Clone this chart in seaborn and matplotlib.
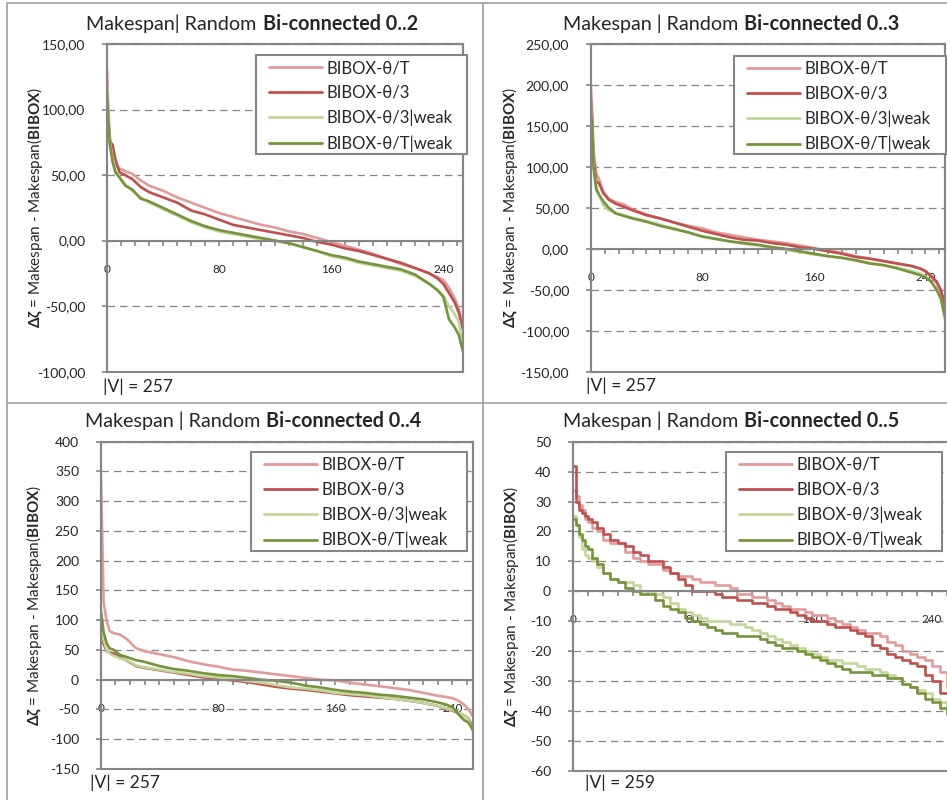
import pandas as pd
import matplotlib
matplotlib.use('Agg')
import matplotlib.pyplot as plt
import seaborn as sns
from matplotlib.lines import Line2D
from matplotlib.patches import Rectangle
from matplotlib.ticker import MultipleLocator, FixedLocator, FuncFormatter
from matplotlib.offsetbox import TextArea, HPacker, AnchoredOffsetbox

sns.set_theme(style='white')
plt.rcParams['font.family'] = ['Lato', 'DejaVu Sans']
plt.rcParams['mathtext.fontset'] = 'custom'
plt.rcParams['mathtext.rm'] = 'Lato'
plt.rcParams['mathtext.bf'] = 'Lato:bold'
plt.rcParams['mathtext.fallback'] = 'stixsans'

# series names and colours
labels = ['BIBOX-θ/T', 'BIBOX-θ/3', 'BIBOX-θ/3|weak', 'BIBOX-θ/T|weak']
colors = ['#E29B9A', '#C0504D', '#C3D69B', '#77933C']

# instance index (sorted by delta) for panels 0..2, 0..3, 0..4
x_abc = [0, 1, 2, 4, 6, 9, 13, 18, 24, 30, 40, 50, 60, 70, 80, 90, 100, 110, 120, 130,
         140, 150, 160, 170, 180, 190, 200, 210, 220, 230, 236, 240, 244, 248, 251, 254]
# instance index for panel 0..5
x_d = [0, 2, 4, 6, 8, 10, 13, 16] + list(range(20, 251, 5)) + [256]

# Bi-connected 0..2
b2_thT = [131, 100, 80, 62, 57, 55, 53, 51, 46, 42, 38, 33, 29, 25, 21, 18, 15, 12, 10, 7,
          5, 2, -1, -4, -7, -10, -14, -18, -21, -25, -28, -30, -36, -44, -52, -65]
b2_th3 = [110, 90, 76, 73, 62, 52, 50, 47, 41, 37, 33, 29, 23, 20, 16, 12, 10, 8, 6, 4,
          2, -1, -3, -6, -8, -11, -14, -17, -21, -25, -29, -33, -40, -47, -55, -68]
b2_th3w = [116, 92, 76, 62, 54, 48, 43, 38, 33, 29, 24, 19, 14, 10, 7, 5, 3, 1, 0, -2,
           -5, -8, -12, -14, -17, -19, -21, -23, -27, -33, -38, -42, -50, -56, -62, -82]
b2_thTw = [112, 90, 74, 60, 52, 48, 42, 39, 32, 30, 25, 20, 15, 11, 8, 6, 4, 2, 0, -2,
           -5, -8, -11, -13, -16, -18, -20, -22, -26, -33, -38, -43, -60, -66, -72, -85]

# Bi-connected 0..3
b3_thT = [202, 170, 120, 92, 85, 70, 61, 57, 54, 48, 42, 37, 32, 28, 25, 20, 17, 14, 11, 9,
          7, 4, 1, -2, -5, -9, -12, -15, -18, -21, -24, -28, -34, -42, -54, -72]
b3_th3 = [183, 160, 110, 82, 80, 68, 60, 55, 51, 47, 41, 37, 32, 27, 22, 18, 14, 11, 10, 7,
          5, 2, 0, -3, -6, -10, -12, -15, -18, -21, -24, -27, -33, -40, -50, -68]
b3_th3w = [179, 150, 100, 76, 66, 53, 47, 44, 41, 38, 34, 29, 25, 20, 15, 12, 9, 6, 4, 1,
           -1, -4, -7, -9, -11, -14, -17, -20, -23, -27, -30, -34, -40, -50, -62, -87]
b3_thTw = [173, 150, 100, 72, 66, 58, 50, 43, 40, 37, 33, 28, 24, 20, 15, 12, 9, 7, 5, 2,
           0, -3, -6, -9, -11, -14, -18, -20, -24, -29, -32, -35, -40, -50, -60, -83]

# Bi-connected 0..4
b4_thT = [360, 250, 130, 100, 82, 78, 76, 68, 53, 48, 43, 38, 31, 26, 22, 17, 15, 12, 9, 6,
          3, 0, -1, -5, -8, -11, -14, -17, -22, -27, -29, -31, -35, -42, -50, -62]
b4_th3 = [90, 72, 60, 48, 46, 44, 38, 32, 23, 20, 16, 12, 8, 4, 1, -1, -4, -8, -12, -15,
          -17, -20, -23, -26, -28, -30, -32, -35, -39, -44, -49, -52, -56, -60, -66, -80]
b4_th3w = [95, 80, 67, 50, 44, 40, 36, 33, 24, 21, 17, 13, 10, 6, 4, 1, -2, -5, -9, -13,
           -15, -18, -22, -24, -26, -29, -32, -35, -39, -44, -48, -51, -55, -60, -67, -87]
b4_thTw = [120, 100, 80, 62, 53, 50, 42, 38, 33, 30, 23, 18, 15, 11, 8, 6, 3, 0, -2, -5,
           -10, -13, -17, -20, -22, -25, -27, -30, -33, -38, -42, -46, -58, -68, -72, -85]

# Bi-connected 0..5
b5_thT = [34, 32, 29, 27, 24, 23, 21, 20, 17, 16, 16, 13, 11, 10, 9, 9, 7, 6, 5, 5,
          4, 3, 3, 2, 2, 1, -1, -1, -2, -2, -3, -4, -5, -6, -6, -7, -8, -8, -9, -10,
          -11, -12, -13, -14, -14, -15, -17, -18, -20, -21, -22, -23, -25, -27, -32, -35]
b5_th3 = [42, 30, 27, 26, 25, 24, 23, 21, 19, 17, 16, 15, 13, 12, 10, 10, 8, 6, 4, 2,
          0, 0, 0, -1, -2, -2, -3, -3, -4, -4, -5, -6, -6, -7, -8, -9, -10, -10, -11, -12,
          -12, -13, -14, -15, -18, -19, -21, -22, -23, -24, -25, -28, -30, -34, -34, -35]
b5_th3w = [25, 22, 18, 14, 12, 11, 10, 8, 6, 4, 3, 3, 2, 0, 0, -1, -2, -4, -6, -7,
           -8, -9, -10, -10, -10, -11, -11, -12, -13, -14, -15, -16, -17, -18, -19, -20, -21, -22, -23, -23,
           -24, -24, -25, -26, -26, -27, -28, -29, -31, -32, -33, -34, -36, -37, -41, -43]
b5_thTw = [24, 22, 19, 17, 15, 14, 11, 9, 6, 4, 3, 1, 0, -1, -1, -3, -5, -6, -7, -9,
           -10, -11, -12, -13, -14, -14, -15, -15, -15, -16, -17, -18, -19, -19, -20, -21, -22, -23, -24, -25,
           -26, -27, -27, -27, -28, -28, -29, -29, -31, -32, -34, -36, -37, -39, -41, -43]

titles_reg = ['Makespan| Random', 'Makespan | Random', 'Makespan | Random', 'Makespan | Random']
titles_bold = ['Bi-connected 0..2', 'Bi-connected 0..3', 'Bi-connected 0..4', 'Bi-connected 0..5']
vertex_counts = ['|V| = 257', '|V| = 257', '|V| = 257', '|V| = 259']
xticks = [0, 80, 160, 240]

panels = [
    (x_abc, [b2_thT, b2_th3, b2_th3w, b2_thTw], (-100, 150), 50, True),
    (x_abc, [b3_thT, b3_th3, b3_th3w, b3_thTw], (-150, 250), 50, True),
    (x_abc, [b4_thT, b4_th3, b4_th3w, b4_thTw], (-150, 400), 50, False),
    (x_d, [b5_thT, b5_th3, b5_th3w, b5_thTw], (-60, 50), 10, False),
]

# layout in pixels: plot area (left, right, top, bottom), title centre, y label x,
# |V| text position, legend box (left, top, width, height)
W, H = 947, 800
layout = [
    dict(rect=(107, 463, 44, 371.7), title=(252, 24), ylab=35, nv=(103, 387), leg=(256, 55, 211, 99)),
    dict(rect=(590.7, 945, 44, 371.7), title=(731, 24), ylab=510, nv=(586, 386), leg=(734, 56, 212, 98)),
    dict(rect=(100.7, 473, 441.7, 769), title=(253, 421), ylab=34, nv=(90, 783), leg=(251, 452, 216, 99)),
    dict(rect=(572.7, 956, 441.7, 770.7), title=(731, 421), ylab=511, nv=(585, 783), leg=(726, 452, 216, 99)),
]

GRAY = '#868686'
ylabel = r'$\mathbf{\Delta\zeta}$ = Makespan - Makespan($\mathbf{BIBOX}$)'

fig = plt.figure(figsize=(W / 100, H / 100), dpi=100)

for i, ((xs, series, ylim, ystep, decimals), lay) in enumerate(zip(panels, layout)):
    l, r, t, b = lay['rect']
    ax = fig.add_axes([l / W, 1 - b / H, (r - l) / W, (b - t) / H])

    df = pd.DataFrame({
        'x': xs * len(series),
        'y': [v for s in series for v in s],
        'method': [lab for lab, s in zip(labels, series) for _ in s],
    })
    sns.lineplot(data=df, x='x', y='y', hue='method', hue_order=labels, palette=colors,
                 estimator=None, legend=False, linewidth=1.9, ax=ax,
                 drawstyle='steps-post' if i == 3 else 'default')

    ax.set_xlim(xs[0], xs[-1])
    ax.set_ylim(*ylim)
    ax.set_xlabel('')
    ax.set_ylabel('')

    # zero-crossing category axis, gray plot-area frame
    ax.spines['bottom'].set_position(('data', 0))
    for s in ax.spines.values():
        s.set_color(GRAY)
        s.set_linewidth(1.5)
    ax.patch.set_edgecolor(GRAY)
    ax.patch.set_linewidth(1.5)

    ax.xaxis.set_major_locator(FixedLocator(xticks))
    ax.xaxis.set_minor_locator(MultipleLocator(10))
    ax.yaxis.set_major_locator(MultipleLocator(ystep))
    if decimals:
        ax.yaxis.set_major_formatter(FuncFormatter(lambda v, p: f'{v:.2f}'.replace('.', ',')))
    else:
        ax.yaxis.set_major_formatter(FuncFormatter(lambda v, p: f'{v:.0f}'))
    ax.tick_params(axis='x', which='both', bottom=True, direction='out', length=3.6,
                   width=1.2, color=GRAY, pad=13, labelsize=8.5)
    ax.tick_params(axis='y', which='major', left=True, direction='out', length=3.6,
                   width=1.2, color=GRAY, pad=12, labelsize=10)
    ax.grid(axis='y', which='major', color=GRAY, linewidth=0.9, linestyle=(0, (6, 4)))
    ax.grid(axis='x', visible=False)
    ax.set_axisbelow(True)

    # title with bold part
    box = HPacker(children=[TextArea(titles_reg[i], textprops=dict(fontsize=14.2)),
                            TextArea(titles_bold[i], textprops=dict(fontsize=14.2, fontweight='bold'))],
                  align='baseline', pad=0, sep=4.5)
    tx, ty = lay['title']
    fig.add_artist(AnchoredOffsetbox(loc='center', child=box, pad=0, borderpad=0, frameon=False,
                                     bbox_to_anchor=(tx / W, 1 - ty / H),
                                     bbox_transform=fig.transFigure))

    fig.text(lay['ylab'] / W, 1 - (t + b) / 2 / H, ylabel, rotation=90,
             ha='center', va='center', fontsize=11)
    nx, ny = lay['nv']
    fig.text(nx / W, 1 - ny / H, vertex_counts[i], fontsize=12.5, ha='left', va='center')

    # legend box and entries
    lx, ly, lw_, lh = lay['leg']
    fig.add_artist(Rectangle((lx / W, 1 - (ly + lh) / H), lw_ / W, lh / H,
                             transform=fig.transFigure, facecolor='white',
                             edgecolor=GRAY, linewidth=1.5, zorder=3))
    handles = [Line2D([], [], color=c, linewidth=2.0) for c in colors]
    fig.legend(handles, labels, loc='upper left',
               bbox_to_anchor=((lx + 13) / W, 1 - (ly + 5) / H),
               frameon=False, borderpad=0, borderaxespad=0, handlelength=3.17,
               handletextpad=0.3, labelspacing=0.53, fontsize=12)

# chart borders
BORDER = '#A6A6A6'
for xs_, ys_ in [([7, 7], [3, 800]), ([483, 483], [3, 800]),
                 ([7, 947], [3, 3]), ([7, 947], [403, 403])]:
    fig.add_artist(Line2D([v / W for v in xs_], [1 - v / H for v in ys_],
                          transform=fig.transFigure, color=BORDER, linewidth=1.3))

fig.savefig('out.png', dpi=100)
